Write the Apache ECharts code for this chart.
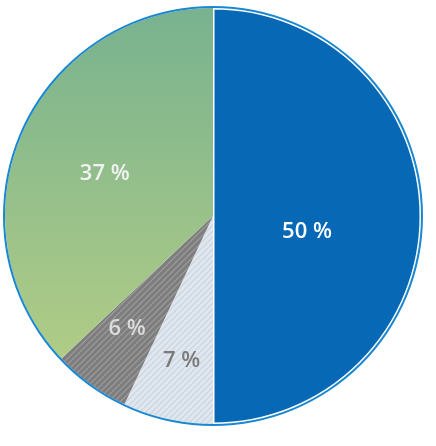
<!DOCTYPE html>
<html>
<head>
<meta charset="utf-8">
<script src="https://cdn.jsdelivr.net/npm/echarts@6/dist/echarts.min.js"></script>
<style>html,body{margin:0;padding:0;background:#fff}</style>
</head>
<body>
<div id="chart" style="width:436px;height:446px"></div>
<script>
var names = ['A', 'B', 'C', 'D'];
var values = [50, 7, 6, 37];

// diagonal hatch pattern
function hatch(bg, line) {
  var c = document.createElement('canvas');
  c.width = 6; c.height = 6;
  var g = c.getContext('2d');
  g.fillStyle = bg; g.fillRect(0, 0, 6, 6);
  g.strokeStyle = line; g.lineWidth = 1.3;
  g.beginPath();
  g.moveTo(0, 6); g.lineTo(6, 0);
  g.moveTo(-3, 3); g.lineTo(3, -3);
  g.moveTo(3, 9); g.lineTo(9, 3);
  g.stroke();
  return c;
}

var colors = [
  '#0768b6',
  { image: hatch('#e3e6ea', '#c5d8ea'), repeat: 'repeat' },
  { image: hatch('#7d7d7d', '#999999'), repeat: 'repeat' },
  new echarts.graphic.LinearGradient(0, 0, 0, 1, [
    { offset: 0, color: '#78b28f' },
    { offset: 1, color: '#b0cc86' }
  ])
];
var labelColors = ['#ffffff', '#7a7a7a', '#dcdcdc', '#f2f2f2'];
var labelShift = [[-13, 16], [-8, 40], [-23, 26], [-10, 0]];

var chart = echarts.init(document.getElementById('chart'));
chart.setOption({
  animation: false,
  series: [{
    type: 'pie',
    center: [213, 216],
    radius: [0, 208],
    startAngle: 90,
    clockwise: true,
    silent: true,
    label: {
      position: 'inside',
      formatter: '{c} %',
      fontFamily: 'Open Sans',
      fontSize: 22,
      fontWeight: 600
    },
    labelLine: { show: false },
    data: values.map(function (v, i) {
      return {
        name: names[i], value: v,
        itemStyle: i === 0 ? { color: colors[i], borderColor: '#fff', borderWidth: 3 } : { color: colors[i] },
        label: { color: labelColors[i], offset: labelShift[i] }
      };
    })
  }, {
    type: 'pie',
    center: [213, 216],
    radius: [208, 210],
    silent: true,
    label: { show: false },
    itemStyle: { color: '#1a87d1' },
    data: [1]
  }]
});
</script>
</body>
</html>
